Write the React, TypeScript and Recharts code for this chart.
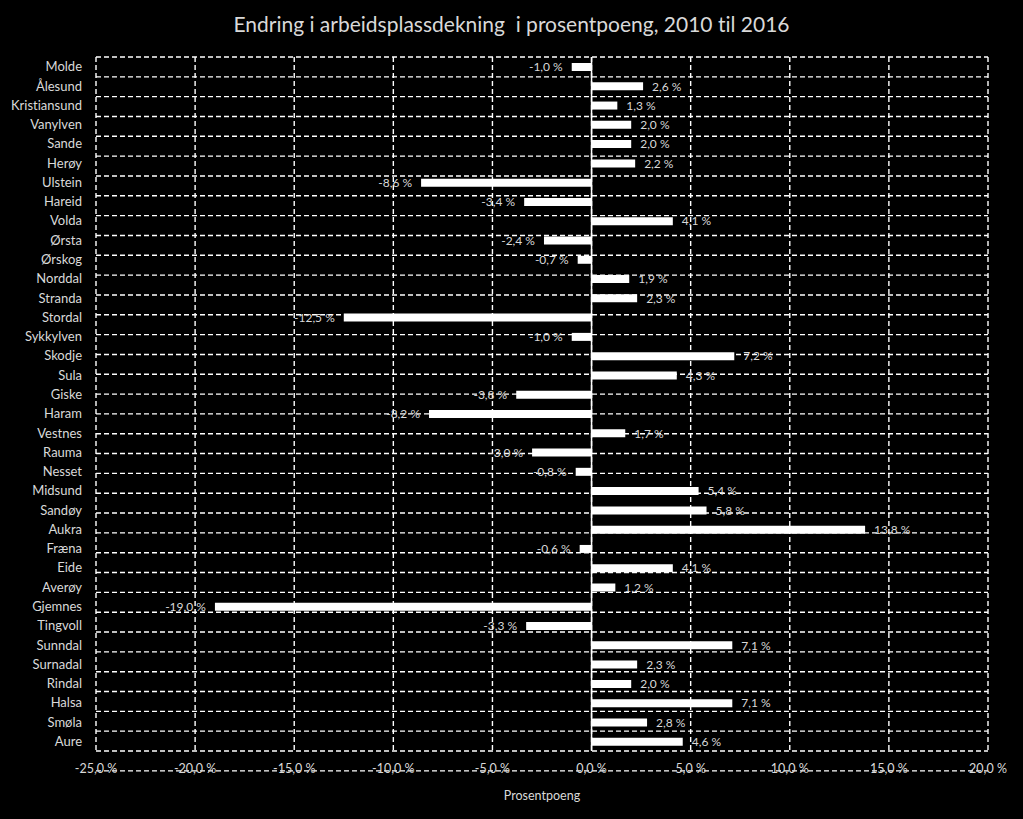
import { BarChart, Bar, XAxis, YAxis, CartesianGrid, ReferenceLine, LabelList } from "recharts"

const kommuner = [
  "Molde", "Ålesund", "Kristiansund", "Vanylven", "Sande", "Herøy", "Ulstein", "Hareid", "Volda",
  "Ørsta", "Ørskog", "Norddal", "Stranda", "Stordal", "Sykkylven", "Skodje", "Sula", "Giske",
  "Haram", "Vestnes", "Rauma", "Nesset", "Midsund", "Sandøy", "Aukra", "Fræna", "Eide", "Averøy",
  "Gjemnes", "Tingvoll", "Sunndal", "Surnadal", "Rindal", "Halsa", "Smøla", "Aure",
]

const endring = [
  -1.0, 2.6, 1.3, 2.0, 2.0, 2.2, -8.6, -3.4, 4.1,
  -2.4, -0.7, 1.9, 2.3, -12.5, -1.0, 7.2, 4.3, -3.8,
  -8.2, 1.7, -3.0, -0.8, 5.4, 5.8, 13.8, -0.6, 4.1, 1.2,
  -19.0, -3.3, 7.1, 2.3, 2.0, 7.1, 2.8, 4.6,
]

const xTicks = [-25, -20, -15, -10, -5, 0, 5, 10, 15, 20]

// grid lines go between the categories, so use a hidden numeric axis for them
const gridTicks = kommuner.map((_, i) => i).concat([kommuner.length])

const data = kommuner.map((name, i) => ({ name, value: endring[i] }))

const txt = "#d9d9d9"
const font = "Lato, 'Noto Sans', sans-serif"

const pct = (v: number) => v.toFixed(1).replace(".", ",") + " %"

export default function App() {
  return (
    <div style={{ position: "absolute", left: 0, top: 0, width: 1023, height: 819, background: "#000", fontFamily: font, fontVariantLigatures: "none" }}>
      <div style={{ position: "absolute", top: 11, left: 0, width: 1023, textAlign: "center", color: txt, fontSize: 21 }}>
        Endring i arbeidsplassdekning&nbsp; i prosentpoeng, 2010 til 2016
      </div>
      <BarChart
        width={1023}
        height={819}
        data={data}
        layout="vertical"
        margin={{ top: 57, right: 35, left: 0, bottom: 0 }}
        barSize={8}
      >
        <CartesianGrid
          yAxisId="grid"
          stroke="#ffffff"
          strokeWidth={1.4}
          strokeDasharray="5 3"
        />
        <XAxis
          type="number"
          domain={[-25, 20]}
          ticks={xTicks}
          tickFormatter={pct}
          axisLine={false}
          tickLine={false}
          tickSize={0}
          tickMargin={13}
          height={68}
          tick={{ fill: txt, fontSize: 12.5, fontFamily: font }}
          label={{ value: "Prosentpoeng", position: "insideBottom", offset: 19, fill: txt, fontSize: 12.5, fontFamily: font }}
        />
        <YAxis
          yAxisId="cat"
          type="category"
          dataKey="name"
          width={96}
          axisLine={false}
          tickLine={false}
          tickSize={0}
          tickMargin={14}
          interval={0}
          tick={{ fill: txt, fontSize: 13, fontFamily: font }}
        />
        <YAxis
          yAxisId="grid"
          type="number"
          domain={[0, kommuner.length]}
          ticks={gridTicks}
          interval={0}
          hide
        />
        <ReferenceLine yAxisId="cat" x={0} stroke="#ffffff" strokeWidth={1.5} />
        <Bar yAxisId="cat" dataKey="value" fill="#ffffff" isAnimationActive={false}>
          <LabelList
            dataKey="value"
            position="right"
            offset={9}
            formatter={(v: any) => pct(Number(v))}
            fill={txt}
            fontSize={12}
            fontFamily={font}
          />
        </Bar>
      </BarChart>
    </div>
  )
}
